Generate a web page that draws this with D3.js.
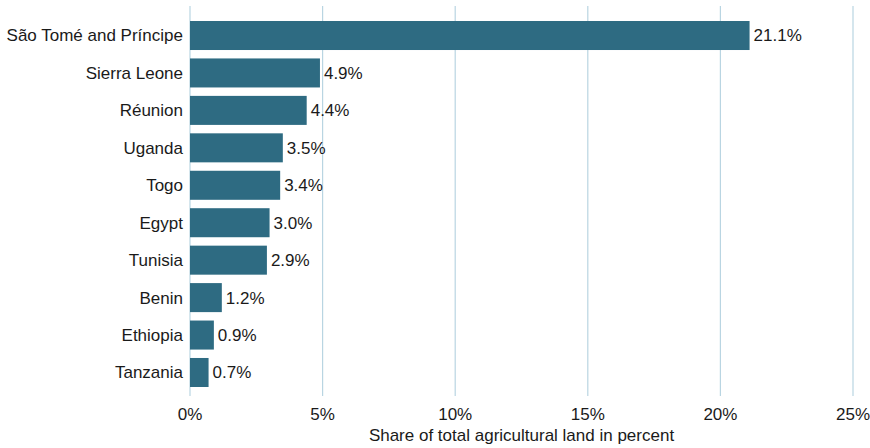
<!DOCTYPE html>
<html><head><meta charset="utf-8">
<script src="https://cdn.jsdelivr.net/npm/d3@7"></script>
<style>body{margin:0;background:#fff}svg{display:block;font-family:"Liberation Sans",Arial,sans-serif}</style>
</head><body><svg id="c" width="870" height="448"></svg>
<script>
const countries = ["São Tomé and Príncipe","Sierra Leone","Réunion","Uganda","Togo","Egypt","Tunisia","Benin","Ethiopia","Tanzania"];
const shares = [21.1,4.9,4.4,3.5,3.4,3.0,2.9,1.2,0.9,0.7];
const ticks = [0,5,10,15,20,25];
const axisTitle = "Share of total agricultural land in percent";

const svg = d3.select("#c");
const x = d3.scaleLinear().domain([0,25]).range([190,853]);
const y = d3.scaleBand().domain(countries).range([21,387]).paddingInner(0.225).paddingOuter(0);

svg.append("g").selectAll("line").data(ticks).join("line")
  .attr("x1",d=>x(d)).attr("x2",d=>x(d)).attr("y1",6).attr("y2",396)
  .attr("stroke","#b9d5e2").attr("stroke-width",1.2);

svg.append("g").selectAll("rect").data(countries).join("rect")
  .attr("x",x(0)).attr("y",d=>y(d)).attr("height",y.bandwidth())
  .attr("width",(d,i)=>x(shares[i])-x(0)).attr("fill","#2e6b82");

svg.append("g").selectAll("text").data(countries).join("text")
  .attr("x",183).attr("y",d=>y(d)+y.bandwidth()/2).attr("dy","0.35em")
  .attr("text-anchor","end").attr("font-size",17).attr("fill","#1a1a1a").text(d=>d);

svg.append("g").selectAll("text").data(countries).join("text")
  .attr("x",(d,i)=>x(shares[i])+4).attr("y",d=>y(d)+y.bandwidth()/2).attr("dy","0.35em")
  .attr("font-size",17).attr("fill","#1a1a1a").text((d,i)=>shares[i].toFixed(1)+"%");

svg.append("g").selectAll("text").data(ticks).join("text")
  .attr("x",d=>x(d)).attr("y",414).attr("dy","0.35em").attr("text-anchor","middle")
  .attr("font-size",17).attr("fill","#1a1a1a").text(d=>d+"%");

svg.append("text").attr("x",(x(0)+x(25))/2).attr("y",435).attr("dy","0.35em")
  .attr("text-anchor","middle").attr("font-size",17).attr("fill","#1a1a1a").text(axisTitle);
</script></body></html>
